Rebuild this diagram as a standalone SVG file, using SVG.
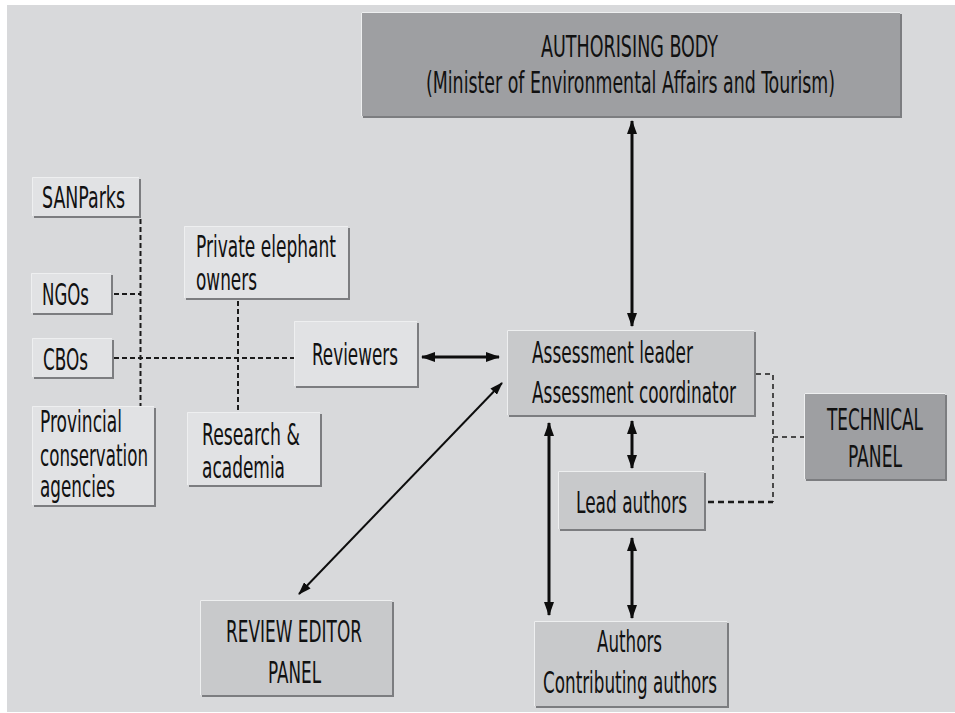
<svg xmlns="http://www.w3.org/2000/svg" width="955" height="713" viewBox="0 0 955 713">
<defs>
<marker id="ah" viewBox="0 0 14 10" refX="13" refY="5" markerWidth="14" markerHeight="10" markerUnits="userSpaceOnUse" orient="auto-start-reverse">
<path d="M0,0 L14,5 L0,10 Z" fill="#0d0d0d"/>
</marker>
<marker id="ahs" viewBox="0 0 13 9" refX="12" refY="4.5" markerWidth="13" markerHeight="9" markerUnits="userSpaceOnUse" orient="auto-start-reverse">
<path d="M0,0 L13,4.5 L0,9 Z" fill="#0d0d0d"/>
</marker>
</defs>
<style>
text{font-family:"Liberation Sans Narrow","DejaVu Sans Condensed","Liberation Sans",Arial,sans-serif;font-size:30px;fill:#111111}
.sh{fill:#7c7d80}
.hl{fill:none;stroke:#eeeff0;stroke-width:1}
.lt{fill:#e1e2e4}
.md{fill:#c8c9cb}
.dk{fill:#9e9fa2}
.arr{fill:none;stroke:#0d0d0d;stroke-width:3;marker-start:url(#ah);marker-end:url(#ah)}
.diag{fill:none;stroke:#0d0d0d;stroke-width:2;marker-start:url(#ahs);marker-end:url(#ahs)}
.dl{fill:none;stroke:#1a1a1a;stroke-width:2;stroke-dasharray:5 3}
.dt{fill:none;stroke:#1a1a1a;stroke-width:1.5;stroke-dasharray:5 4}
.dw{fill:none;stroke:#1a1a1a;stroke-width:2.5;stroke-dasharray:6 4}
</style>
<rect x="0" y="0" width="955" height="713" fill="#ffffff"/>
<rect x="7" y="5" width="948" height="707" fill="#d8d9db"/>

<g id="connectors">
<path class="dl" d="M140.5,219 V406"/>
<path class="dl" d="M114,294 H140"/>
<path class="dl" d="M114,358 H294"/>
<path class="dl" d="M238,301 V412"/>
<path class="dt" d="M756,374 H773 V502"/>
<path class="dt" d="M773,437 H804"/>
<path class="dw" d="M708,502 H773"/>
<line class="arr" x1="632" y1="121" x2="632" y2="326"/>
<line class="arr" x1="422" y1="357" x2="499" y2="357"/>
<line class="diag" x1="299" y1="594" x2="502" y2="383"/>
<line class="arr" x1="632" y1="421" x2="632" y2="468"/>
<line class="arr" x1="632" y1="538" x2="632" y2="618"/>
<line class="arr" x1="549" y1="423" x2="549" y2="615"/>
</g>

<g id="authorising-body">
<rect class="sh" x="363" y="14" width="539" height="104"/>
<rect class="dk" x="361" y="12" width="539" height="104"/>
<path class="hl" d="M361.5,116 V12.5 H900"/>
<text x="541" y="57" textLength="177" lengthAdjust="spacingAndGlyphs">AUTHORISING BODY</text>
<text x="426" y="93" textLength="409" lengthAdjust="spacingAndGlyphs">(Minister of Environmental Affairs and Tourism)</text>
</g>

<g id="sanparks">
<rect class="sh" x="34" y="179" width="107" height="39"/>
<rect class="lt" x="32" y="177" width="107" height="39"/>
<path class="hl" d="M32.5,216 V177.5 H139"/>
<text x="42" y="208" textLength="83" lengthAdjust="spacingAndGlyphs">SANParks</text>
</g>

<g id="ngos">
<rect class="sh" x="33" y="275" width="80" height="40"/>
<rect class="lt" x="31" y="273" width="80" height="40"/>
<path class="hl" d="M31.5,313 V273.5 H111"/>
<text x="42" y="305" textLength="47" lengthAdjust="spacingAndGlyphs">NGOs</text>
</g>

<g id="cbos">
<rect class="sh" x="34" y="340" width="80" height="39"/>
<rect class="lt" x="32" y="338" width="80" height="39"/>
<path class="hl" d="M32.5,377 V338.5 H112"/>
<text x="43" y="370" textLength="45" lengthAdjust="spacingAndGlyphs">CBOs</text>
</g>

<g id="provincial">
<rect class="sh" x="34" y="408" width="122" height="99"/>
<rect class="lt" x="32" y="406" width="122" height="99"/>
<path class="hl" d="M32.5,505 V406.5 H154"/>
<text x="40" y="432" textLength="82" lengthAdjust="spacingAndGlyphs">Provincial</text>
<text x="40" y="466" textLength="108" lengthAdjust="spacingAndGlyphs">conservation</text>
<text x="40" y="497" textLength="75" lengthAdjust="spacingAndGlyphs">agencies</text>
</g>

<g id="private-owners">
<rect class="sh" x="186" y="228" width="164" height="72"/>
<rect class="lt" x="184" y="226" width="164" height="72"/>
<path class="hl" d="M184.5,298 V226.5 H348"/>
<text x="196" y="257" textLength="140" lengthAdjust="spacingAndGlyphs">Private elephant</text>
<text x="196" y="290" textLength="61" lengthAdjust="spacingAndGlyphs">owners</text>
</g>

<g id="research">
<rect class="sh" x="189" y="414" width="133" height="73"/>
<rect class="lt" x="187" y="412" width="133" height="73"/>
<path class="hl" d="M187.5,485 V412.5 H320"/>
<text x="202" y="445" textLength="98" lengthAdjust="spacingAndGlyphs">Research &amp;</text>
<text x="202" y="478" textLength="83" lengthAdjust="spacingAndGlyphs">academia</text>
</g>

<g id="reviewers">
<rect class="sh" x="296" y="323" width="123" height="65"/>
<rect class="lt" x="294" y="321" width="123" height="65"/>
<path class="hl" d="M294.5,386 V321.5 H417"/>
<text x="312" y="365" textLength="86" lengthAdjust="spacingAndGlyphs">Reviewers</text>
</g>

<g id="assessment-leader">
<rect class="sh" x="509" y="332" width="247" height="85"/>
<rect class="md" x="507" y="330" width="247" height="85"/>
<path class="hl" d="M507.5,415 V330.5 H754"/>
<text x="532" y="363" textLength="161" lengthAdjust="spacingAndGlyphs">Assessment leader</text>
<text x="532" y="403" textLength="204" lengthAdjust="spacingAndGlyphs">Assessment coordinator</text>
</g>

<g id="technical-panel">
<rect class="sh" x="806" y="395" width="141" height="86"/>
<rect class="dk" x="804" y="393" width="141" height="86"/>
<path class="hl" d="M804.5,479 V393.5 H945"/>
<text x="827" y="430" textLength="96" lengthAdjust="spacingAndGlyphs">TECHNICAL</text>
<text x="848" y="467" textLength="54" lengthAdjust="spacingAndGlyphs">PANEL</text>
</g>

<g id="lead-authors">
<rect class="sh" x="560" y="473" width="146" height="58"/>
<rect class="md" x="558" y="471" width="146" height="58"/>
<path class="hl" d="M558.5,529 V471.5 H704"/>
<text x="576" y="513" textLength="111" lengthAdjust="spacingAndGlyphs">Lead authors</text>
</g>

<g id="authors">
<rect class="sh" x="536" y="623" width="193" height="85"/>
<rect class="md" x="534" y="621" width="193" height="85"/>
<path class="hl" d="M534.5,706 V621.5 H727"/>
<text x="597" y="652" textLength="65" lengthAdjust="spacingAndGlyphs">Authors</text>
<text x="543" y="693" textLength="174" lengthAdjust="spacingAndGlyphs">Contributing authors</text>
</g>

<g id="review-editor-panel">
<rect class="sh" x="202" y="602" width="192" height="95"/>
<rect class="md" x="200" y="600" width="192" height="95"/>
<path class="hl" d="M200.5,695 V600.5 H392"/>
<text x="226" y="642" textLength="136" lengthAdjust="spacingAndGlyphs">REVIEW EDITOR</text>
<text x="268" y="683" textLength="53" lengthAdjust="spacingAndGlyphs">PANEL</text>
</g>
</svg>
